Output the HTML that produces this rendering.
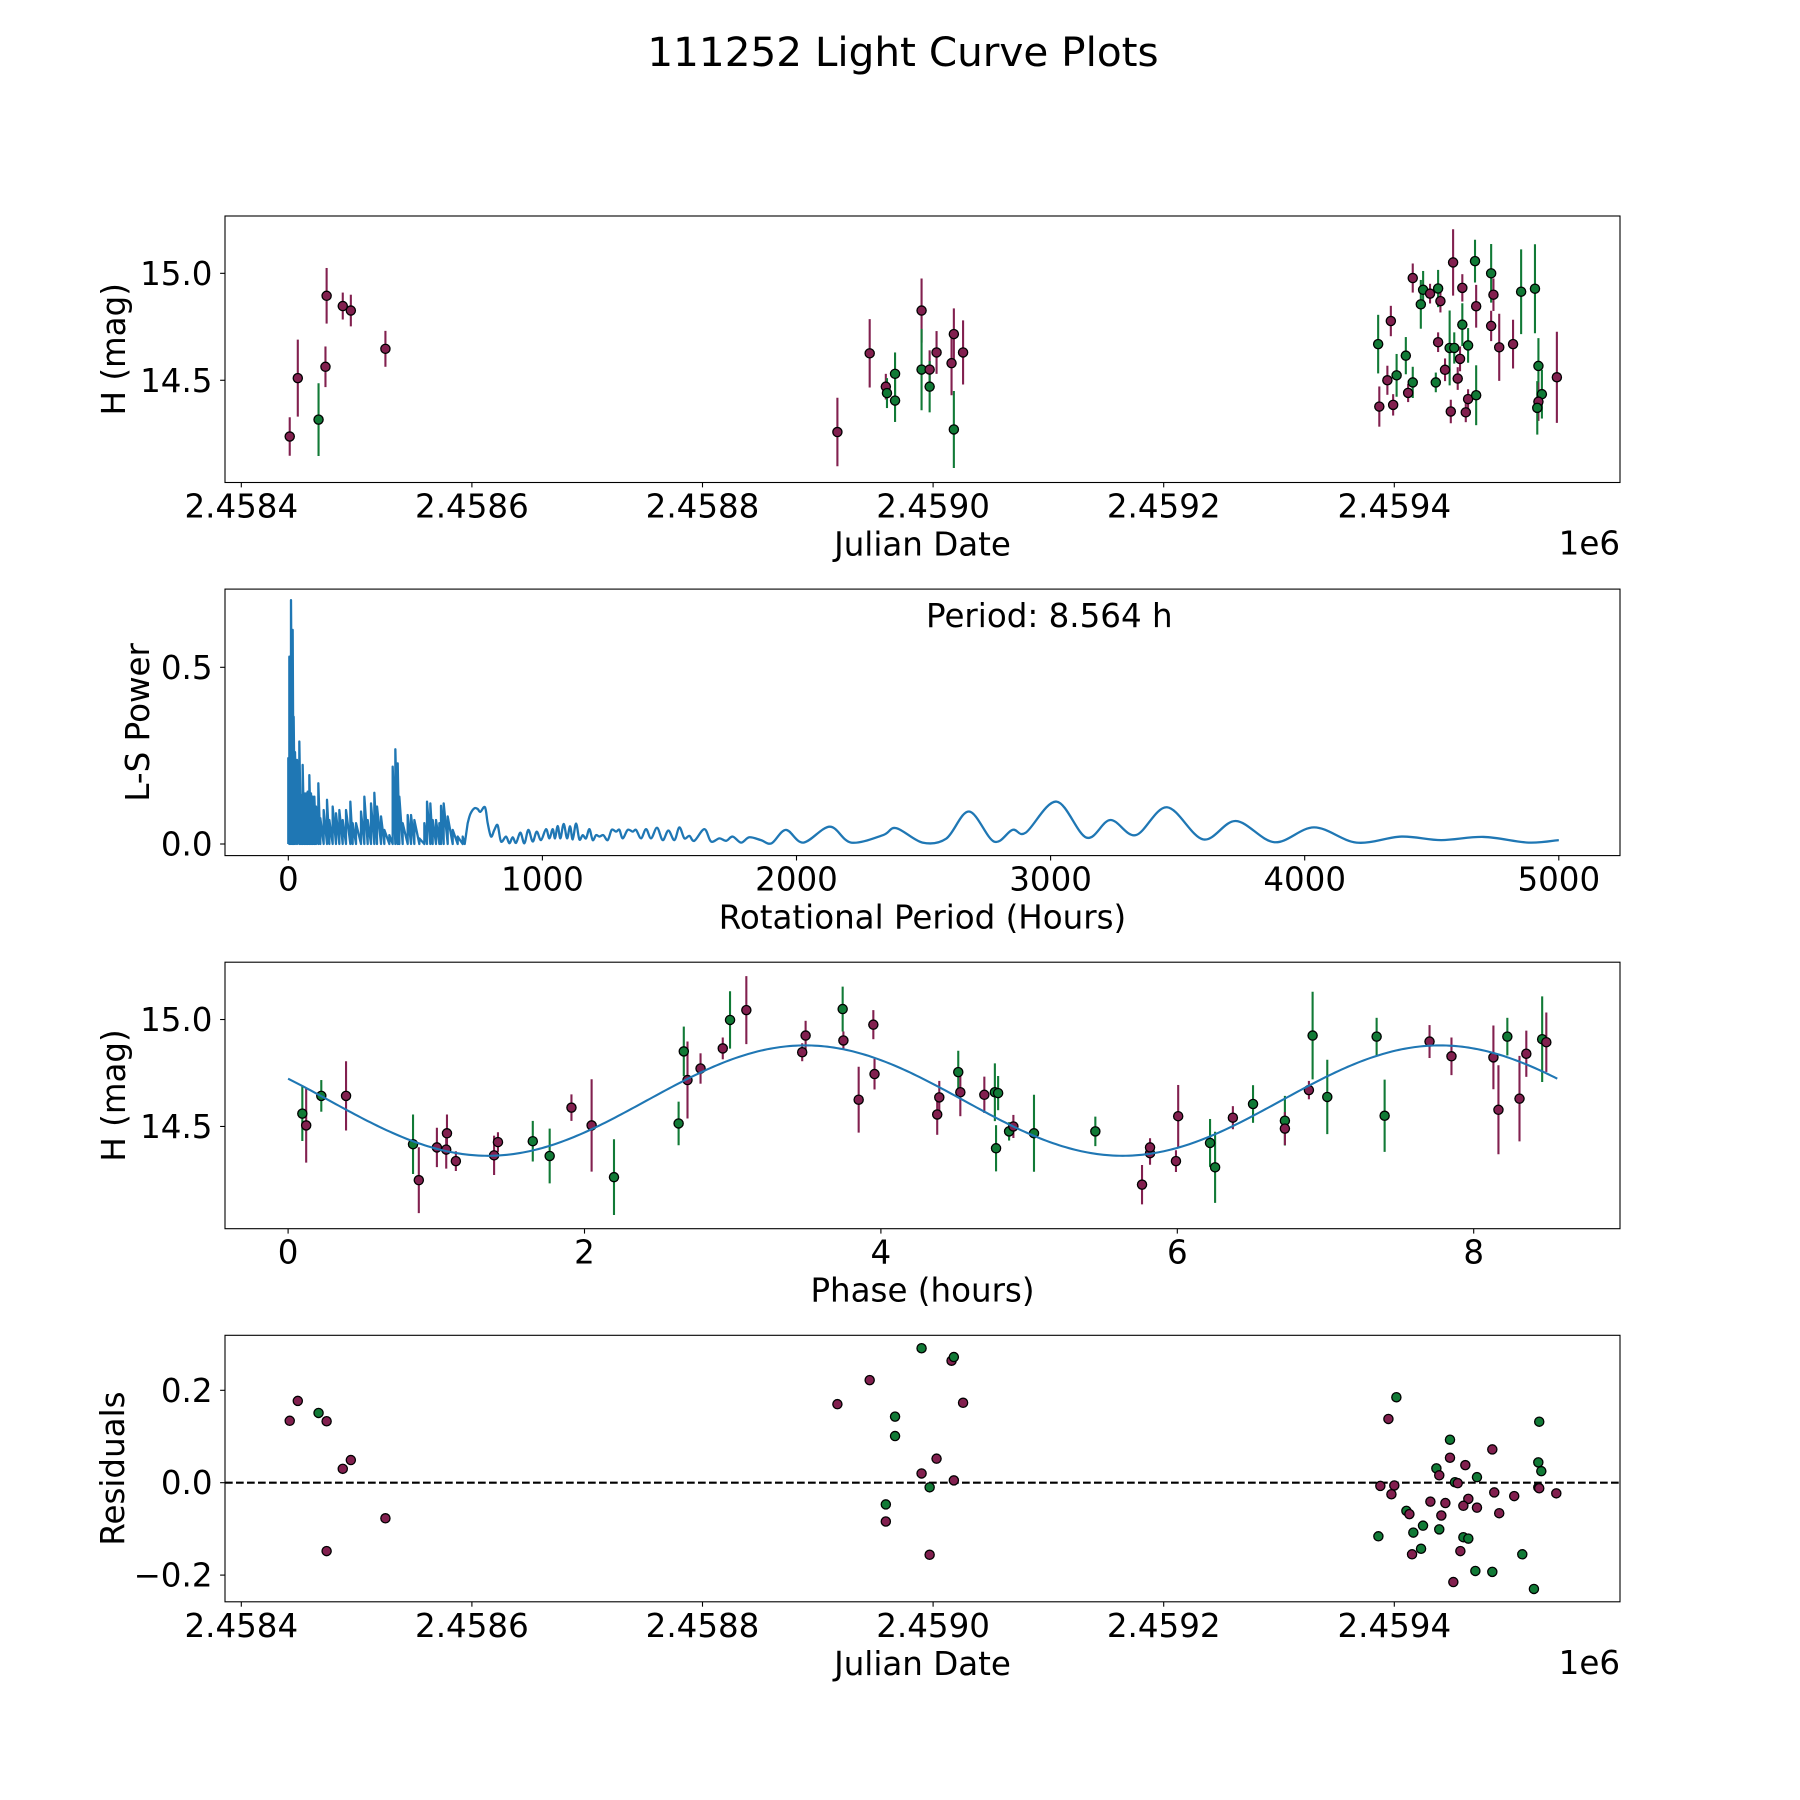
<!DOCTYPE html>
<html><head><meta charset="utf-8"><title>111252 Light Curve Plots</title>
<style>
html,body{margin:0;padding:0;background:#fff;}
svg{display:block;font-family:"DejaVu Sans","Liberation Sans",sans-serif;}
</style></head>
<body>
<svg id="fig" xmlns="http://www.w3.org/2000/svg" width="1800" height="1800" viewBox="0 0 1800 1800">
<rect x="0" y="0" width="1800" height="1800" fill="#fff"/>
<text x="903" y="66" font-size="40.5" text-anchor="middle" fill="#000">111252 Light Curve Plots</text>
</svg>
<script>
// ---------- DATA ----------
// Panel 1: light curve (days offset from JD 2458400)
const lcDays = [42,49,67,73,74,88,95,125,
 517,545,559,560,567,567,590,590,597,597,603,616,618,618,626,
 986,997,994,987,999,1002,1010,1012,1016,1016,1023,1025,1031,1036,1038,1038,1040,1044,1048,1049,1051,1052,1055,1057,1059,1059,1062,1064,1064,1070,1071,1071,1084,1084,1086,1091,1103,1110,1122,1125,1128,1125,1124,1141];
const lcMags = [14.237,14.51,14.316,14.563,14.895,14.847,14.826,14.647,
 14.258,14.626,14.47,14.44,14.53,14.405,14.826,14.55,14.55,14.47,14.63,14.58,14.716,14.27,14.63,
 14.669,14.777,14.50,14.377,14.385,14.523,14.615,14.441,14.49,14.978,14.855,14.923,14.905,14.49,14.929,14.678,14.87,14.549,14.651,14.354,15.051,14.651,14.508,14.6,14.932,14.76,14.35,14.663,14.412,15.057,14.846,14.43,15.0,14.754,14.90,14.654,14.669,14.914,14.928,14.567,14.435,14.40,14.371,14.514];
const lcErrs = [0.09,0.18,0.17,0.095,0.13,0.063,0.074,0.084,
 0.16,0.16,0.06,0.07,0.10,0.10,0.15,0.19,0.09,0.12,0.1,0.15,0.12,0.18,0.15,
 0.137,0.071,0.068,0.094,0.05,0.10,0.087,0.043,0.073,0.068,0.114,0.088,0.046,0.046,0.087,0.046,0.053,0.053,0.175,0.055,0.155,0.073,0.053,0.058,0.064,0.10,0.046,0.081,0.046,0.10,0.10,0.14,0.137,0.071,0.076,0.157,0.114,0.198,0.208,0.13,0.114,0.09,0.125,0.213];
const lcBands = ["o","o","g","o","o","o","o","o",
 "o","o","o","g","g","g","o","g","o","g","o","o","o","g","o",
 "g","o","o","o","o","g","g","o","g","o","g","g","o","g","g","o","o","o","g","o","o","g","o","o","o","g","o","g","o","g","o","g","g","o","o","o","o","g","g","g","g","o","g","o"];

// Panel 2: Lomb-Scargle periodogram (hours, power)
const lsSpikePeriods = [0,4.1,10.6,17.2,21.1,26.4,34.2,43.4,50,56.5,63,69.7,76.2,82.8,89.3,95.9,102.5,109,118.2,126,139.2,152.3,161.5,174.6,187.7,200.9,214,227.1,244.2,253.3,266.5,286.1,299.3,312.4,325.5,338.6,349.1,364.9,378,397.7,410.8,421.3,430.5,437,450.1,469.8,483,496.1,515.7,535.4,545.9,559,568.2,581.3,594.5,601,611.5,627.3,647,666.6,686.3];
const lsSpikePowers = [0.243,0.53,0.69,0.606,0.36,0.26,0.238,0.29,0.139,0.224,0.143,0.143,0.148,0.195,0.143,0.134,0.134,0.106,0.172,0.073,0.096,0.125,0.068,0.106,0.087,0.096,0.068,0.096,0.12,0.059,0.059,0.092,0.134,0.068,0.115,0.145,0.106,0.078,0.04,0.025,0.219,0.268,0.228,0.134,0.059,0.082,0.082,0.068,0.016,0.059,0.12,0.115,0.068,0.068,0.059,0.108,0.115,0.078,0.04,0.021,0.021];
const lsSmoothPeriods = [706,716.5,732.2,745.3,755.8,774.2,784.7,797.8,811,824,837.2,856.9,870,883.1,896.2,913.3,929,944.8,961.9,977.6,994.6,1014.3,1027.4,1040.5,1049.7,1060.2,1070.7,1083.8,1097,1108.8,1119.3,1132.4,1145.5,1158.6,1171.7,1184.9,1198,1211.1,1224.2,1240,1257,1272.8,1289.9,1303,1316.1,1335.7,1355.4,1368.5,1388.2,1407.9,1427.6,1451.2,1473.5,1495.8,1519.4,1539.1,1558.8,1578.5,1598.1,1637.5,1663.7,1696.5,1722.8,1749,1781.8,1814.6,1860,1902,1958,2027,2131,2215,2340,2392,2496,2589,2679,2777,2850,2902,3023,3141,3235,3335,3458,3600,3729,3881,4037,4204,4381,4537,4704,4881,5000];
const lsSmoothPowers = [0.059,0.085,0.101,0.099,0.091,0.104,0.059,0.021,0.04,0.053,0.007,0.021,0.002,0.019,0.003,0.032,0.002,0.04,0.007,0.035,0.011,0.042,0.016,0.042,0.016,0.051,0.016,0.057,0.016,0.05,0.013,0.058,0.013,0.025,0.016,0.042,0.011,0.025,0.021,0.025,0.011,0.04,0.035,0.04,0.016,0.04,0.035,0.04,0.016,0.042,0.016,0.046,0.011,0.038,0.011,0.047,0.016,0.023,0.009,0.042,0.007,0.016,0.009,0.021,0.004,0.019,0.011,0.002,0.04,0.004,0.049,0.004,0.025,0.045,0.004,0.015,0.092,0.007,0.04,0.032,0.12,0.018,0.068,0.025,0.104,0.013,0.065,0.005,0.047,0.004,0.021,0.011,0.02,0.004,0.011];
const periodLabel = "Period: 8.564 h";

// Panel 3: phase-folded
const phPhases = [0.096,0.122,0.224,0.391,0.843,0.882,1.004,1.067,1.072,1.132,1.39,1.416,1.651,1.765,1.912,2.048,2.199,2.635,2.67,2.695,2.783,2.933,2.982,3.092,3.469,3.492,3.742,3.747,3.85,3.949,3.957,
 4.38,4.394,4.522,4.536,4.698,4.769,4.791,4.777,4.865,4.894,5.033,5.447,5.762,5.816,5.816,5.991,6.006,6.221,6.255,6.375,6.511,6.726,6.726,6.888,6.913,7.012,7.345,7.399,7.702,7.85,8.133,8.167,8.227,8.309,8.355,8.462,8.49];
const phMags = [14.56,14.505,14.643,14.643,14.417,14.249,14.402,14.392,14.468,14.338,14.365,14.427,14.431,14.362,14.588,14.505,14.263,14.514,14.851,14.717,14.771,14.865,14.998,15.044,14.847,14.925,15.049,14.902,14.625,14.976,14.745,
 14.556,14.636,14.754,14.66,14.648,14.66,14.656,14.398,14.477,14.5,14.468,14.477,14.228,14.375,14.402,14.338,14.548,14.423,14.309,14.541,14.605,14.527,14.49,14.67,14.925,14.638,14.92,14.55,14.897,14.828,14.823,14.578,14.92,14.63,14.84,14.908,14.894];
const phErrs = [0.128,0.174,0.074,0.162,0.139,0.154,0.092,0.089,0.088,0.046,0.092,0.046,0.095,0.128,0.062,0.216,0.177,0.102,0.116,0.18,0.071,0.051,0.134,0.159,0.042,0.069,0.105,0.042,0.154,0.068,0.072,
 0.095,0.077,0.1,0.112,0.085,0.135,0.08,0.108,0.043,0.054,0.18,0.069,0.092,0.054,0.043,0.051,0.146,0.112,0.166,0.054,0.088,0.116,0.077,0.043,0.205,0.174,0.088,0.169,0.077,0.088,0.149,0.208,0.088,0.2,0.108,0.2,0.139];
const phBands = ["g","o","g","o","g","o","o","o","o","o","o","o","g","g","o","o","g","g","g","o","o","o","g","o","o","o","g","o","o","o","o",
 "o","o","g","o","o","g","g","g","g","o","g","g","o","o","o","o","o","g","g","o","g","g","o","o","g","g","g","g","o","o","o","o","g","o","o","g","o"];
const fitMean = 14.621, fitAmp = 0.258, fitPeriod = 4.282, fitPeak = 3.49, fitEnd = 8.564;

// Panel 4: residuals
const resDays = [42,49,67,74,74,88,95,125,
 517,545,559,559,567,567,590,590,597,597,603,616,618,618,626,
 1001.8,994.9,1125.7,1048.3,1085,1048.3,1061.6,1124.9,1127.5,1036.5,1039,1071.7,1052.6,1055,987.9,1000,997.5,1086.7,1104,1124.9,1125.7,1140.5,1064.2,1031.3,1044.3,1059.9,1071.7,1091,1010.5,1013.1,1040.8,1024.9,1016.5,1039,986.2,1059.9,1064.2,1023.2,1015.4,1057.3,1111,1070.3,1085,1051.2,1121.1];
const resVals = [0.134,0.177,0.151,0.133,-0.148,0.03,0.049,-0.077,
 0.17,0.222,-0.084,-0.047,0.143,0.101,0.291,0.02,-0.01,-0.156,0.052,0.264,0.272,0.005,0.173,
 0.185,0.138,0.132,0.093,0.072,0.054,0.038,0.044,0.025,0.031,0.016,0.012,0.001,-0.001,-0.007,-0.006,-0.025,-0.021,-0.029,-0.01,-0.012,-0.023,-0.035,-0.041,-0.044,-0.05,-0.054,-0.066,-0.061,-0.068,-0.071,-0.093,-0.108,-0.101,-0.116,-0.118,-0.121,-0.143,-0.155,-0.148,-0.155,-0.191,-0.193,-0.215,-0.23];
const resBands = ["o","o","g","o","o","o","o","o",
 "o","o","o","g","g","g","g","o","g","o","o","o","g","o","o",
 "g","o","g","g","o","o","o","g","g","g","o","g","g","o","o","o","o","o","o","g","o","o","o","o","o","o","o","o","g","o","o","g","g","g","g","g","g","g","o","o","g","g","g","o","g"];

const jdTickVals = [0,200,400,600,800,1000];
const jdTickLabels = ["2.4584","2.4586","2.4588","2.4590","2.4592","2.4594"];
const magTickVals = [14.5,15.0];
const magTickLabels = ["14.5","15.0"];
const lsXTickVals = [0,1000,2000,3000,4000,5000];
const lsXTickLabels = ["0","1000","2000","3000","4000","5000"];
const lsYTickVals = [0,0.5];
const lsYTickLabels = ["0.0","0.5"];
const phTickVals = [0,2,4,6,8];
const phTickLabels = ["0","2","4","6","8"];
const resTickVals = [-0.2,0,0.2];
const resTickLabels = ["\u22120.2","0.0","0.2"];

// ---------- DRAWING ----------
const NS = "http://www.w3.org/2000/svg";
const svg = document.getElementById("fig");
const COL = {o:"#82204f", g:"#117a36"};
const L = 225, R = 1620, H = 266.5;
const TOPS = [216, 589.1, 962.2, 1335.3];
const FS = 32.5;

function mk(tag, parent) { const e = document.createElementNS(NS, tag); (parent||svg).appendChild(e); return e; }
function lin(d0,d1,p0,p1){ return v => p0 + (v-d0)*(p1-p0)/(d1-d0); }

function axesFrame(top, name) {
  const g = mk("g");
  
  
  return g;
}
function drawFrame(g, top) {
  const r = mk("rect", g);
  r.setAttribute("x", L); r.setAttribute("y", top); r.setAttribute("width", R-L); r.setAttribute("height", H);
  r.setAttribute("fill", "none"); r.setAttribute("stroke", "#000"); r.setAttribute("stroke-width", "1.1");
  
  
}
function xTicks(g, top, vals, labels, sx, name) {
  const tg = mk("g", g);
  
  
  const y = top + H;
  vals.forEach((v,i) => {
    const x = sx(v);
    const t = mk("line", tg);
    t.setAttribute("x1", x); t.setAttribute("x2", x); t.setAttribute("y1", y); t.setAttribute("y2", y+4.9);
    t.setAttribute("stroke", "#000"); t.setAttribute("stroke-width", "1.1");
    const tx = mk("text", tg);
    
    
    tx.setAttribute("x", x); tx.setAttribute("y", y + 35); tx.setAttribute("font-size", FS);
    tx.setAttribute("text-anchor", "middle"); tx.textContent = labels[i];
  });
}
function yTicks(g, top, vals, labels, sy, name) {
  const tg = mk("g", g);
  
  
  vals.forEach((v,i) => {
    const y = sy(v);
    const t = mk("line", tg);
    t.setAttribute("x1", L-4.9); t.setAttribute("x2", L); t.setAttribute("y1", y); t.setAttribute("y2", y);
    t.setAttribute("stroke", "#000"); t.setAttribute("stroke-width", "1.1");
    const tx = mk("text", tg);
    
    
    tx.setAttribute("x", L-12.5); tx.setAttribute("y", y + 11.5); tx.setAttribute("font-size", FS);
    tx.setAttribute("text-anchor", "end"); tx.textContent = labels[i];
  });
}
function xLabel(g, top, text, name) {
  const t = mk("text", g);
  
  
  t.setAttribute("x", (L+R)/2); t.setAttribute("y", top + H + 73); t.setAttribute("font-size", FS);
  t.setAttribute("text-anchor", "middle"); t.textContent = text;
}
function yLabel(g, top, text, bx, name) {
  const t = mk("text", g);
  
  
  const cy = top + H/2;
  t.setAttribute("x", bx); t.setAttribute("y", cy); t.setAttribute("font-size", FS);
  t.setAttribute("text-anchor", "middle"); t.setAttribute("transform", "rotate(-90 " + bx + " " + cy + ")");
  t.textContent = text;
}
function offsetLabel(g, top) {
  const t = mk("text", g);
  
  
  t.setAttribute("x", R); t.setAttribute("y", top + H + 72); t.setAttribute("font-size", FS);
  t.setAttribute("text-anchor", "end"); t.textContent = "1e6";
}
function clip(id, top) {
  const cp = mk("clipPath"); cp.setAttribute("id", id);
  const r = mk("rect", cp);
  r.setAttribute("x", L); r.setAttribute("y", top); r.setAttribute("width", R-L); r.setAttribute("height", H);
}
function errPoints(g, xs, ys, es, bands, sx, sy) {
  const eg = mk("g", g);
  
  
  xs.forEach((xv,i) => {
    const l = mk("line", eg);
    
    
    const x = sx(xv);
    l.setAttribute("x1", x); l.setAttribute("x2", x);
    l.setAttribute("y1", sy(ys[i]-es[i])); l.setAttribute("y2", sy(ys[i]+es[i]));
    l.setAttribute("stroke", COL[bands[i]]); l.setAttribute("stroke-width", "2.1");
  });
  dots(g, xs, ys, bands, sx, sy);
}
function dots(g, xs, ys, bands, sx, sy) {
  const pg = mk("g", g);
  
  
  xs.forEach((xv,i) => {
    const c = mk("circle", pg);
    
    
    c.setAttribute("cx", sx(xv)); c.setAttribute("cy", sy(ys[i])); c.setAttribute("r", "4.6");
    c.setAttribute("fill", COL[bands[i]]); c.setAttribute("stroke", "#000"); c.setAttribute("stroke-width", "1.3");
  });
}

// Panel 1
(function(){
  const top = TOPS[0];
  const g = axesFrame(top, "light-curve-panel");
  const sx = lin(0, 1000, 241.3, 1394.3);
  const sy = lin(14.022, 15.268, top+H, top);
  clip("c1", top);
  const dg = mk("g", g); dg.setAttribute("clip-path", "url(#c1)");
  errPoints(dg, lcDays, lcMags, lcErrs, lcBands, sx, sy);
  drawFrame(g, top);
  xTicks(g, top, jdTickVals, jdTickLabels, sx, "x-axis-ticks");
  yTicks(g, top, magTickVals, magTickLabels, sy, "y-axis-ticks");
  xLabel(g, top, "Julian Date", "x-axis-title");
  offsetLabel(g, top);
  yLabel(g, top, "H (mag)", 125, "y-axis-title");
})();

// Panel 2
(function(){
  const top = TOPS[1];
  const g = axesFrame(top, "periodogram-panel");
  const sx = lin(0, 1000, 288.3, 542.4);
  const sy = lin(0, 0.5, 844, 667.3);
  clip("c2", top);
  let d = "";
  let first = true;
  lsSpikePeriods.forEach((p,i) => {
    const x = sx(p);
    d += (first ? "M" : "L") + x.toFixed(2) + " " + sy(0).toFixed(2);
    d += "L" + x.toFixed(2) + " " + sy(lsSpikePowers[i]).toFixed(2);
    first = false;
  });
  d += "L" + sx(lsSpikePeriods[lsSpikePeriods.length-1] + 8).toFixed(2) + " " + sy(0).toFixed(2);
  const pts = lsSmoothPeriods.map((p,i) => [sx(p), sy(lsSmoothPowers[i])]);
  d += "L" + pts[0][0].toFixed(2) + " " + pts[0][1].toFixed(2);
  for (let i = 0; i < pts.length-1; i++) {
    const p0 = pts[Math.max(0,i-1)], p1 = pts[i], p2 = pts[i+1], p3 = pts[Math.min(pts.length-1,i+2)];
    const c1x = p1[0] + (p2[0]-p0[0])/6, c1y = p1[1] + (p2[1]-p0[1])/6;
    const c2x = p2[0] - (p3[0]-p1[0])/6, c2y = p2[1] - (p3[1]-p1[1])/6;
    d += "C" + c1x.toFixed(2)+" "+c1y.toFixed(2)+" "+c2x.toFixed(2)+" "+c2y.toFixed(2)+" "+p2[0].toFixed(2)+" "+p2[1].toFixed(2);
  }
  const path = mk("path", g);
  
  
  path.setAttribute("d", d); path.setAttribute("fill", "none"); path.setAttribute("stroke", "#1f77b4");
  path.setAttribute("stroke-width", "2.3"); path.setAttribute("stroke-linejoin", "round");
  path.setAttribute("clip-path", "url(#c2)");
  drawFrame(g, top);
  xTicks(g, top, lsXTickVals, lsXTickLabels, sx, "x-axis-ticks");
  yTicks(g, top, lsYTickVals, lsYTickLabels, sy, "y-axis-ticks");
  xLabel(g, top, "Rotational Period (Hours)", "x-axis-title");
  yLabel(g, top, "L-S Power", 149, "y-axis-title");
  const pt = mk("text", g);
  
  
  pt.setAttribute("x", 926); pt.setAttribute("y", 627); pt.setAttribute("font-size", FS);
  pt.textContent = periodLabel;
})();

// Panel 3
(function(){
  const top = TOPS[2];
  const g = axesFrame(top, "phase-fold-panel");
  const sx = lin(0, 2, 288.1, 584.5);
  const sy = lin(14.022, 15.268, top+H, top);
  clip("c3", top);
  const dg = mk("g", g); dg.setAttribute("clip-path", "url(#c3)");
  let d = "";
  for (let k = 0; k <= 400; k++) {
    const ph = fitEnd * k / 400;
    const m = fitMean + fitAmp * Math.cos(2*Math.PI*(ph - fitPeak)/fitPeriod);
    d += (k ? "L" : "M") + sx(ph).toFixed(2) + " " + sy(m).toFixed(2);
  }
  errPoints(dg, phPhases, phMags, phErrs, phBands, sx, sy);
  const fit = mk("path", dg);
  
  
  fit.setAttribute("d", d); fit.setAttribute("fill", "none"); fit.setAttribute("stroke", "#1f77b4"); fit.setAttribute("stroke-width", "2.1");
  drawFrame(g, top);
  xTicks(g, top, phTickVals, phTickLabels, sx, "x-axis-ticks");
  yTicks(g, top, magTickVals, magTickLabels, sy, "y-axis-ticks");
  xLabel(g, top, "Phase (hours)", "x-axis-title");
  yLabel(g, top, "H (mag)", 125, "y-axis-title");
})();

// Panel 4
(function(){
  const top = TOPS[3];
  const g = axesFrame(top, "residuals-panel");
  const sx = lin(0, 1000, 241.3, 1394.3);
  const sy = lin(0, 0.2, 1482.7, 1390.3);
  clip("c4", top);
  const dg = mk("g", g); dg.setAttribute("clip-path", "url(#c4)");
  const zl = mk("line", dg);
  
  
  zl.setAttribute("x1", L); zl.setAttribute("x2", R); zl.setAttribute("y1", sy(0)); zl.setAttribute("y2", sy(0));
  zl.setAttribute("stroke", "#000"); zl.setAttribute("stroke-width", "2.1"); zl.setAttribute("stroke-dasharray", "7.7 3.3");
  dots(dg, resDays, resVals, resBands, sx, sy);
  drawFrame(g, top);
  xTicks(g, top, jdTickVals, jdTickLabels, sx, "x-axis-ticks");
  yTicks(g, top, resTickVals, resTickLabels, sy, "y-axis-ticks");
  xLabel(g, top, "Julian Date", "x-axis-title");
  offsetLabel(g, top);
  yLabel(g, top, "Residuals", 124, "y-axis-title");
})();
</script>
</body></html>
